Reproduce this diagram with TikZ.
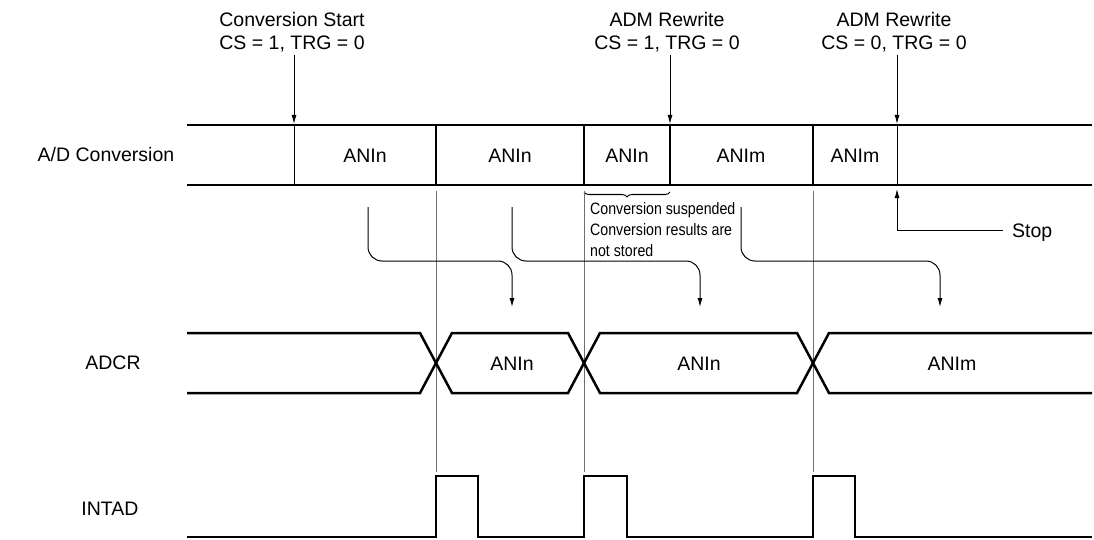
\documentclass[tikz,border=0pt]{standalone}
\usepackage{fontspec}
\setmainfont{Liberation Sans}
\newfontfamily\narrowsans[FakeStretch=0.86]{Liberation Sans}
\usetikzlibrary{arrows.meta,calc,positioning,decorations.pathreplacing}
\definecolor{tdInk}{HTML}{000000}
\definecolor{tdGuide}{HTML}{707070}

\begin{document}
\begin{tikzpicture}[x=1pt,y=-1pt,>={Latex[length=9pt,width=5pt]},line join=miter]
\path[fill=white] (0,0) rectangle (1094,540);
\useasboundingbox (0,0) rectangle (1094,540);
\tikzset{busline/.style={draw=tdInk,line width=2.5pt},thinline/.style={draw=tdInk,line width=1pt},guide/.style={draw=tdGuide,line width=1pt},lbl/.style={font=\fontsize{19.5}{23}\selectfont,text=tdInk,inner sep=0pt,anchor=base},note/.style={font=\narrowsans\fontsize{16.5}{21}\selectfont,text=tdInk,inner sep=0pt,anchor=base west}}
% row names
\node[lbl] (adName) at (106,162) {A/D Conversion};
\node[lbl] (adcrName) at (113,369) {ADCR};
\node[lbl] (intadName) at (110,515) {INTAD};
% trigger labels
\node[lbl] (startA) at (292,27) {Conversion Start};
\node[lbl] (csA) at (292,50) {CS = 1, TRG = 0};
\node[lbl] (rewB) at (667,27) {ADM Rewrite};
\node[lbl] (csB) at (667,50) {CS = 1, TRG = 0};
\node[lbl] (rewC) at (894,27) {ADM Rewrite};
\node[lbl] (csC) at (894,50) {CS = 0, TRG = 0};
\coordinate (hitA) at (294,124);
\coordinate (hitB) at (670,124);
\coordinate (hitC) at (897,124);
\draw[thinline,->,shorten <=2pt] (csA.south -| hitA) -- (hitA);
\draw[thinline,->,shorten <=2pt] (csB.south -| hitB) -- (hitB);
\draw[thinline,->,shorten <=2pt] (csC.south -| hitC) -- (hitC);
% A/D conversion bus
\draw[busline] (187,125) -- (1092,125);
\draw[busline] (187,185) -- (1092,185);
\draw[thinline] (294,125) -- (294,185);
\draw[thinline] (897,125) -- (897,185);
\foreach \xx in {436,584,670,813} \draw[busline] (\xx,125) -- (\xx,185);
\node[lbl] (slot1) at (365,163) {ANIn};
\node[lbl] (slot2) at (510,163) {ANIn};
\node[lbl] (slot3) at (627,163) {ANIn};
\node[lbl] (slot4) at (741,163) {ANIm};
\node[lbl] (slot5) at (855,163) {ANIm};
% suspended slot
\draw[thinline,decorate,decoration={brace,mirror,amplitude=5pt}] (584,192) -- (670,192);
\node[note] (suspA) at (590,214) {Conversion suspended};
\node[note] (suspB) at (590,235) {Conversion results are};
\node[note] (suspC) at (590,256) {not stored};
% stop
\node[lbl,anchor=base west] (stop) at (1012,237) {Stop};
\coordinate (stopK) at (1003,230);
\coordinate (hitStop) at (897,189);
\draw[thinline,->] (stopK) -| (hitStop);
% guides
\foreach \xx in {436,584,813} \draw[guide] (\xx,191) -- (\xx,472);
% transfers to ADCR
\coordinate (srcA) at (368,207); \coordinate (dstA) at (512,307);
\coordinate (srcB) at (512,207); \coordinate (dstB) at (700,307);
\coordinate (srcC) at (741,207); \coordinate (dstC) at (940,307);
\draw[thinline,->,rounded corners=14pt] (srcA) |- (dstA |- 0,261) -- (dstA);
\draw[thinline,->,rounded corners=14pt] (srcB) |- (dstB |- 0,261) -- (dstB);
\draw[thinline,->,rounded corners=14pt] (srcC) |- (dstC |- 0,261) -- (dstC);
% ADCR bus
\draw[busline] (187,333) -- (420,333) -- (452,393) -- (568,393) -- (600,333) -- (797,333) -- (829,393) -- (1092,393);
\draw[busline] (187,393) -- (420,393) -- (452,333) -- (568,333) -- (600,393) -- (797,393) -- (829,333) -- (1092,333);
\node[lbl] (reg1) at (512,370) {ANIn};
\node[lbl] (reg2) at (699,370) {ANIn};
\node[lbl] (reg3) at (952,370) {ANIm};
% INTAD
\draw[busline] (187,537) -- (436,537) -- (436,476) -- (478,476) -- (478,537) -- (584,537) -- (584,476) -- (627,476) -- (627,537) -- (813,537) -- (813,476) -- (855,476) -- (855,537) -- (1092,537);
\end{tikzpicture}
\end{document}
